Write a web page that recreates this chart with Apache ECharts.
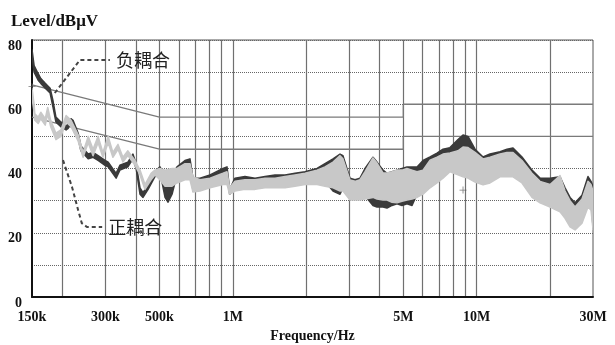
<!DOCTYPE html>
<html>
<head>
<meta charset="utf-8">
<script src="https://cdn.jsdelivr.net/npm/echarts@6/dist/echarts.min.js"></script>
<style>html,body{margin:0;padding:0;background:#fff}#chart{width:615px;height:345px}</style>
</head>
<body>
<div id="chart"></div>
<script>
// frequencies in kHz, levels in dBuV
var darkFreq = [150,153,159,163,170,178,183,188,197,207,211,217,221,232,238,255,267,280,299,308,332,344,371,389,401,416,428,449,479,502,
    527,542,563,590,636,667,686,733,806,911,946,970,1020,1121,1233,1355,1489,1637,1798,1977,2214,2387,2575,2751,2829,3023,3170,3322,3483,3756,3901,4129,4287,4495,4712,4940,
    5178,5430,5693,6026,6437,6875,7276,7773,8384,8789,9215,9845,10619,11340,12467,13317,14096,15340,16860,18190,19995,21970,23036,24150,25320,27040,28620,29440,30000];
var darkHigh = [77,72,69.5,68,66.5,65,61,56,54.5,53,54,55.5,55,51,47,44.5,45,44,42.5,42,38.5,41,42,44.5,41.5,34,32.5,35,39,40.5,
    38,36,38,40.5,42.5,43,37,37,38,40,40.5,33.5,37,37.5,37,37.5,38,38,38.5,39,40,41.5,43,44.5,44,37,36.5,37,40,43.5,42,39.5,38.5,39,39.5,40,
    40.5,40.5,40.5,42.5,43.6,44.8,46,46.5,49,50.4,50,46,43.6,44.5,45.2,46,46.4,43.6,39.5,37,37,37.4,34,31,29.3,31.7,37.5,36,34.5];
var darkLow = [75,70,67.5,66.5,65,63.5,59,54.5,53,52,52.5,54,53.5,49.5,45.5,43,43.5,42.5,41,40.5,37,39.5,40.5,43,40,32,31,33.5,37.5,39,
    31,29.5,32,38,41,41.5,33,35.5,36.5,38.5,38.5,32,34,34.5,34.5,35,35,35,35.5,36,36.5,36,33,32,34,30.5,30.5,31,31.5,28.5,28,28,27.7,28.5,29,28.5,
    29,28.5,32,39,40,41.3,42.5,43,45.5,46.9,46.5,42.5,40.1,41,41.7,42.5,42.9,40.1,36,33.5,33.5,33.9,30.5,27.5,25.8,28.2,34,32.5,21.5];

var lightFreq = [150,153,154,159,163,170,174,179,188,197,207,217,232,243,255,267,280,293,308,322,338,354,371,397,416,436,462,479,502,
    527,563,590,636,667,686,733,806,911,946,970,1020,1121,1233,1355,1489,1637,1798,1977,2214,2387,2575,2751,2829,3023,3170,3322,3483,3756,3901,4129,4287,4495,4712,4940,
    5178,5430,5693,6026,6437,6875,7276,7773,8384,8789,9215,9845,10619,11340,12467,13317,14096,15340,16860,18190,19995,21970,23036,24150,25320,27040,28620,29440,30000];
var lightHigh = [65,60,57,56,57.5,55.5,59,55,51,52,56.5,55,50.5,45,50,46,50,45,50,45,47.5,43.5,45.5,42.5,39.5,35,38.5,39.5,40,
    39.5,40,40,41.5,41.5,37.4,36.5,37,38.5,39,34,36,36.5,36.5,37,37,37.5,38,38.5,39.5,40.5,42,44,43,36.4,36,36.5,39,43.3,41.7,38.6,38.6,39,39.5,39.5,
    40,39.5,39,39.5,42.6,43.5,44.5,44.8,45.5,46.7,46.5,45,43,43.5,44.5,45,45,42.5,38.5,36,35,37.8,33,30,28,30.5,36,35,33];
var lightLow = [62,57.5,55,54,55.5,53.5,57,53,49,50,54.5,53,48.5,43.5,48,44,48,43.5,48,43.5,46,42,44,41,38,33.5,36.5,38,36.5,
    34.5,34.5,35.5,36.5,36.5,32.7,33,34,35,35,32,33,33.5,33.5,34,34,34,34.5,35,35,34.5,34,33,33,30.2,30.2,30.2,30.5,31,30.5,30.2,30.2,29.5,29.3,29.8,
    30.2,30.5,31,32,34,35.5,37,39,38,37.4,37,35.8,34.9,35.5,37.4,37.4,37.4,35.5,31,29.3,28,26.5,24.5,21.8,20.9,23,28,27,21];

var limitFreq = [150, 500, 5000, 5000, 30000];
var limitQP = [66, 56, 56, 60, 60];
var limitAV = [56, 46, 46, 50, 50];

var gridFreq = [200,300,400,500,600,700,800,900,1000,2000,3000,4000,5000,6000,7000,8000,9000,10000,20000];
var labelFreq = [150,300,500,1000,5000,10000,30000];
var labelText = ['150k','300k','500k','1M','5M','10M','30M'];

var negLeadFreq = [186, 236, 313];
var negLeadLevel = [63.5, 73.8, 73.8];
var posLeadFreq = [201, 219, 232, 240, 252, 291];
var posLeadLevel = [42.6, 34.2, 27, 23, 21.8, 21.8];

var markFreq = [150, 8790];
var markLevel = [65.5, 33.3];

function lg(f) { return Math.log10(f * 1000); }
function pts(freq, vals) {
    return freq.map(function(f, i) { return [lg(f), vals[i]]; });
}

var serif = '"Liberation Serif", "Times New Roman", serif';
var chart = echarts.init(document.getElementById('chart'));

// band drawn as one polygon: upper edge forward, lower edge back
function band(freq, hi, lo, color, z) {
    return {
        type: 'custom', z: z, clip: true,
        data: freq.map(function(f, i) { return [lg(f), lo[i], hi[i]]; }),
        encode: {x: 0, y: [1, 2]},
        renderItem: function(params, api) {
            if (params.dataIndexInside !== 0) return null;
            var n = params.dataInsideLength;
            var top = [], bottom = [];
            for (var i = 0; i < n; i++) {
                var x = api.value(0, i);
                top.push(api.coord([x, api.value(2, i)]));
                bottom.unshift(api.coord([x, api.value(1, i)]));
            }
            return {
                type: 'polygon',
                shape: {points: top.concat(bottom)},
                style: {fill: color, stroke: color, lineWidth: 1.5, lineJoin: 'round'}
            };
        }
    };
}

function lead(freq, level, text) {
    return {
        type: 'line', data: pts(freq, level), showSymbol: false, z: 6,
        lineStyle: {color: '#444', width: 2, type: [4, 3]},
        endLabel: {show: true, formatter: text, distance: 6, fontSize: 18, color: '#222',
            fontFamily: '"Noto Sans CJK SC", sans-serif'}
    };
}

var series = [
    {type: 'line', data: pts(limitFreq, limitQP), showSymbol: false, z: 1, lineStyle: {color: '#7a7a7a', width: 1.3}},
    {type: 'line', data: pts(limitFreq, limitAV), showSymbol: false, z: 1, lineStyle: {color: '#7a7a7a', width: 1.3}},
    band(darkFreq, darkHigh, darkLow, '#3a3a3a', 2),
    band(lightFreq, lightHigh, lightLow, '#c8c8c8', 3),
    lead(negLeadFreq, negLeadLevel, '负耦合'),
    lead(posLeadFreq, posLeadLevel, '正耦合'),
    {type: 'scatter', data: pts(markFreq, markLevel), z: 5, symbolSize: 7,
        symbol: 'path://M4,0h1v4h4v1h-4v4h-1v-4h-4v-1h4z', itemStyle: {color: '#555'}}
];

chart.setOption({
    animation: false,
    title: {
        text: 'Level/dBμV', left: 6, top: 8,
        textStyle: {fontFamily: serif, fontWeight: 'bold', fontSize: 17, color: '#111'}
    },
    grid: {left: 32, right: 22, top: 40, bottom: 48, outerBoundsMode: 'none',
        show: true, borderColor: '#555', borderWidth: 1},
    xAxis: {
        type: 'value', min: lg(150), max: lg(30000),
        name: 'Frequency/Hz', nameLocation: 'middle', nameGap: 32,
        nameTextStyle: {fontFamily: serif, fontWeight: 'bold', fontSize: 14, color: '#111'},
        axisLine: {show: true, lineStyle: {color: '#111', width: 2}},
        axisTick: {show: false, customValues: gridFreq.map(lg)},
        splitLine: {show: true, lineStyle: {color: '#707070', width: 1.2}},
        axisLabel: {
            customValues: labelFreq.map(lg), margin: 13,
            fontFamily: serif, fontWeight: 'bold', fontSize: 14, color: '#111',
            formatter: function(v) {
                for (var i = 0; i < labelFreq.length; i++) {
                    if (Math.abs(lg(labelFreq[i]) - v) < 1e-6) return labelText[i];
                }
                return '';
            }
        }
    },
    yAxis: {
        type: 'value', min: 0, max: 80, interval: 10,
        axisLine: {show: true, lineStyle: {color: '#111', width: 2}},
        axisTick: {show: false},
        splitLine: {show: true, lineStyle: {color: '#666', width: 1, type: 'dotted'}},
        axisLabel: {
            margin: 10, lineHeight: 12,
            fontFamily: serif, fontWeight: 'bold', fontSize: 14, color: '#111',
            // blank first line drops the number a few pixels below its gridline
            formatter: function(v) { return v % 20 === 0 ? '\n' + v : ''; }
        }
    },
    series: series
});
</script>
</body>
</html>
